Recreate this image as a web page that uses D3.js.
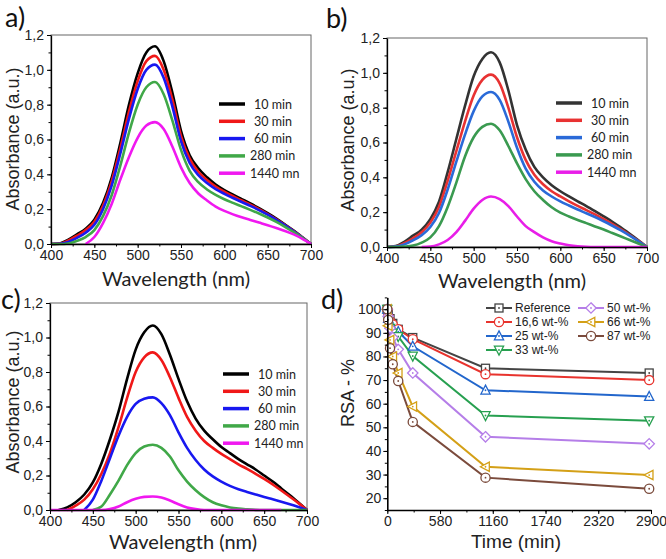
<!DOCTYPE html>
<html><head><meta charset="utf-8">
<script src="https://cdn.jsdelivr.net/npm/d3@7"></script>
<style>body{margin:0;background:#fff}svg{display:block}</style>
</head><body>
<svg id="c" width="666" height="559"></svg>
<script>
// ---------- DATA ----------
const wavelengths = [400,410,420,430,440,450,460,470,480,490,500,510,520,530,540,550,560,570,580,590,600,610,620,630,640,650,660,670,680,690,700];
const seriesNames = ["10 min","30 min","60 min","280 min","1440 mn"];

const a10  = [0,0.003,0.025,0.055,0.088,0.14,0.235,0.38,0.58,0.80,0.98,1.10,1.135,1.05,0.87,0.65,0.51,0.435,0.383,0.342,0.31,0.283,0.258,0.233,0.206,0.177,0.146,0.112,0.077,0.039,0];
const a30  = [0,0.002,0.02,0.048,0.08,0.128,0.22,0.36,0.55,0.76,0.935,1.05,1.08,1.0,0.83,0.62,0.49,0.415,0.368,0.33,0.3,0.274,0.25,0.226,0.2,0.172,0.142,0.109,0.075,0.038,0];
const a60  = [0,0.001,0.012,0.035,0.065,0.11,0.2,0.335,0.52,0.72,0.89,1.0,1.03,0.955,0.79,0.59,0.465,0.395,0.35,0.315,0.288,0.264,0.241,0.219,0.195,0.168,0.139,0.107,0.073,0.037,0];
const a280 = [0,0,0.003,0.018,0.04,0.08,0.16,0.28,0.45,0.64,0.8,0.9,0.93,0.86,0.71,0.54,0.42,0.355,0.313,0.282,0.257,0.236,0.216,0.196,0.175,0.152,0.127,0.099,0.068,0.035,0];
const a1440= [null,null,null,null,0,0.04,0.12,0.23,0.37,0.50,0.61,0.68,0.70,0.66,0.56,0.44,0.35,0.29,0.25,0.215,0.19,0.17,0.153,0.138,0.123,0.108,0.092,0.075,0.055,0.03,0];

const b10  = [0,0.005,0.03,0.065,0.1,0.16,0.26,0.43,0.62,0.81,0.98,1.08,1.118,1.06,0.90,0.70,0.56,0.46,0.40,0.355,0.32,0.29,0.262,0.235,0.206,0.176,0.145,0.111,0.076,0.039,0];
const b30  = [0,0.003,0.022,0.05,0.085,0.14,0.23,0.38,0.55,0.72,0.87,0.96,0.99,0.94,0.80,0.63,0.5,0.415,0.36,0.32,0.29,0.262,0.236,0.212,0.187,0.16,0.132,0.101,0.069,0.035,0];
const b60  = [0,0.002,0.015,0.038,0.068,0.115,0.195,0.33,0.49,0.645,0.78,0.865,0.89,0.845,0.72,0.57,0.45,0.375,0.325,0.29,0.262,0.238,0.215,0.194,0.172,0.148,0.122,0.095,0.065,0.033,0];
const b280 = [0,0,0.002,0.008,0.025,0.055,0.12,0.23,0.37,0.52,0.63,0.69,0.708,0.67,0.58,0.48,0.39,0.32,0.27,0.228,0.197,0.175,0.155,0.137,0.118,0.1,0.08,0.06,0.04,0.02,0];
const b1440= [null,null,null,null,0,0.002,0.015,0.04,0.085,0.15,0.22,0.27,0.29,0.275,0.235,0.175,0.12,0.085,0.055,0.033,0.02,0.01,0.004,0.001,0,0,0,0,0,0,0];

const c10  = [null,0,0.015,0.045,0.09,0.16,0.27,0.41,0.57,0.76,0.93,1.03,1.07,1.02,0.9,0.76,0.63,0.53,0.46,0.41,0.365,0.33,0.295,0.265,0.235,0.2,0.165,0.125,0.085,0.043,0];
const c30  = [null,null,0,0.025,0.06,0.12,0.21,0.33,0.48,0.65,0.8,0.885,0.914,0.87,0.77,0.65,0.54,0.46,0.4,0.36,0.325,0.295,0.265,0.238,0.21,0.18,0.148,0.113,0.077,0.04,0];
const c60  = [null,null,null,null,0,0.06,0.17,0.3,0.43,0.54,0.615,0.645,0.653,0.62,0.55,0.45,0.36,0.29,0.235,0.195,0.165,0.14,0.12,0.105,0.09,0.075,0.062,0.048,0.033,0.017,0];
const c280 = [null,null,null,null,null,0,0.02,0.09,0.17,0.26,0.33,0.368,0.378,0.36,0.31,0.23,0.165,0.115,0.075,0.045,0.027,0.015,0.008,0.004,0.001,0,0,0,0,0,0];
const c1440= [0,0,0,0,0,0,0,0.005,0.02,0.045,0.065,0.076,0.078,0.072,0.055,0.033,0.015,0.005,0,0,0,0,0,0,0,0,0,0,null,null,null];

const wlTicks = [400,450,500,550,600,650,700];
const absTicks = [0,0.2,0.4,0.6,0.8,1.0,1.2];
const absTickLabels = ["0,0","0,2","0,4","0,6","0,8","1,0","1,2"];

const times = [0,10,30,60,120,280,1080,2880];
const rsaNames = ["Reference","16,6 wt-%","25 wt-%","33 wt-%","50 wt-%","66 wt-%","87 wt-%"];
const rsaRef  = [100,98,96,94,91.5,88,75,73];
const rsa16   = [100,97,95,93.5,91.5,87.3,72.5,70];
const rsa25   = [100,96,93.5,92,90.5,84.3,65.7,63];
const rsa33   = [100,95,92,90,88.5,80.2,55,52.8];
const rsa50   = [100,97,92,88,83,73,46,43];
const rsa66   = [100,93,87,80,73,58.8,33.3,29.8];
const rsa87   = [100,95.5,83.5,76.7,69.6,52.3,28.7,24];
const timeTicks = [0,580,1160,1740,2320,2900];
const rsaTicks = [20,30,40,50,60,70,80,90,100];

// ---------- DRAW ----------
const svg = d3.select("#c");
const TF = "'Liberation Sans', Arial, sans-serif";
const LF = "Lato, 'Open Sans', sans-serif";

function spectra(cfg){
  const g = svg.append("g");
  const x = d3.scaleLinear().domain([400,700]).range([cfg.x0,cfg.x1]);
  const y = d3.scaleLinear().domain([0,1.2]).range([cfg.yb,cfg.yt]);
  g.append("rect").attr("x",cfg.x0).attr("y",cfg.yt).attr("width",cfg.x1-cfg.x0).attr("height",cfg.yb-cfg.yt)
    .attr("fill","none").attr("stroke","#666").attr("stroke-width",1);
  const line = d3.line().defined(d=>d[1]!==null).x(d=>x(d[0])).y(d=>y(d[1])).curve(d3.curveMonotoneX);
  cfg.series.forEach((s,i)=>{
    g.append("path").datum(wavelengths.map((w,j)=>[w,s[j]]))
      .attr("d",line).attr("fill","none").attr("stroke",cfg.colors[i]).attr("stroke-width",2.6)
      .attr("stroke-linejoin","round");
  });
  const minorX = d3.range(400,701,25);
  g.append("g").attr("transform",`translate(0,${cfg.yb})`)
    .call(d3.axisBottom(x).tickValues(minorX).tickSize(2.5).tickFormat(""))
    .call(a=>a.select(".domain").remove());
  const ax = g.append("g").attr("transform",`translate(0,${cfg.yb})`)
    .call(d3.axisBottom(x).tickValues(wlTicks).tickSize(4).tickPadding(2).tickSizeOuter(0).tickFormat(d=>d));
  ax.selectAll("text").attr("font-family",TF).attr("font-size",14).attr("fill","#222");
  ax.select(".domain").attr("stroke-width",1.3);
  const minorY = d3.range(0,1.21,0.1);
  g.append("g").attr("transform",`translate(${cfg.x0},0)`)
    .call(d3.axisLeft(y).tickValues(minorY).tickSize(2.5).tickFormat(""))
    .call(a=>a.select(".domain").remove());
  const ay = g.append("g").attr("transform",`translate(${cfg.x0},0)`)
    .call(d3.axisLeft(y).tickValues(absTicks).tickSize(4).tickPadding(3).tickSizeOuter(0).tickFormat((d,i)=>absTickLabels[i]));
  ay.selectAll("text").attr("font-family",TF).attr("font-size",14).attr("fill","#222");
  ay.select(".domain").attr("stroke-width",1.3);
  g.append("text").attr("x",cfg.xlx).attr("y",cfg.xly).attr("text-anchor","middle")
    .attr("font-family",LF).attr("font-size",20).attr("fill","#222").text("Wavelength (nm)");
  g.append("text").attr("transform",`translate(${cfg.ylx},${cfg.yly}) rotate(-90)`).attr("text-anchor","middle")
    .attr("font-family",TF).attr("font-size",18).attr("fill","#222").text("Absorbance (a.u.)");
  g.append("text").attr("x",cfg.px).attr("y",cfg.py).attr("font-family",LF).attr("font-size",27).attr("fill","#111").text(cfg.panel);
  seriesNames.forEach((n,i)=>{
    const yy = cfg.ly + i*17.3;
    g.append("line").attr("x1",cfg.lx).attr("x2",cfg.lx+26).attr("y1",yy).attr("y2",yy)
      .attr("stroke",cfg.colors[i]).attr("stroke-width",3.5);
    g.append("text").attr("x",cfg.lx+(i<3?35:31)).attr("y",yy+4.5).attr("font-family",LF).attr("font-size",12.5)
      .attr("fill","#222").text(n);
  });
}

spectra({x0:51,x1:311,yb:244,yt:35,series:[a10,a30,a60,a280,a1440],
  colors:["#000000","#f01818","#1818f0","#40a848","#f018f0"],
  xlx:176,xly:286,ylx:19,yly:139,px:5,py:27,panel:"a)",lx:219,ly:104});
spectra({x0:387,x1:647,yb:247,yt:38,series:[b10,b30,b60,b280,b1440],
  colors:["#333333","#e83232","#2a6ad8","#3a9a50","#e81ee8"],
  xlx:512,xly:288,ylx:354,yly:140,px:326,py:28,panel:"b)",lx:556,ly:103});
spectra({x0:50,x1:307,yb:510,yt:303,series:[c10,c30,c60,c280,c1440],
  colors:["#000000","#f01818","#1818f0","#40a848","#f018f0"],
  xlx:183,xly:549,ylx:19,yly:402,px:1,py:309,panel:"c)",lx:223,ly:374});

// panel d
(function(){
  const g = svg.append("g");
  const x = d3.scaleLinear().domain([0,2900]).range([387.3,651]);
  const y = d3.scaleLinear().domain([15,105]).range([510,297.4]);
  const series = [rsaRef,rsa16,rsa25,rsa33,rsa50,rsa66,rsa87];
  const colors = ["#444444","#e8332d","#2266cc","#27a050","#b57ee8","#d4a017","#7b4b3c"];
  const shapes = ["square","circle","up","down","diamond","left","circle"];
  function marker(sel, shape, cx, cy, col){
    const r=4.6;
    let el;
    if(shape==="circle") el=sel.append("circle").attr("cx",cx).attr("cy",cy).attr("r",r);
    else if(shape==="square") el=sel.append("rect").attr("x",cx-r+0.6).attr("y",cy-r+0.6).attr("width",2*r-1.2).attr("height",2*r-1.2);
    else {
      let pts;
      if(shape==="up") pts=[[0,-r-0.5],[r,r-0.8],[-r,r-0.8]];
      if(shape==="down") pts=[[0,r+0.5],[r,-r+0.8],[-r,-r+0.8]];
      if(shape==="left") pts=[[-r-0.5,0],[r-0.8,-r],[r-0.8,r]];
      if(shape==="diamond") pts=[[0,-r-0.6],[r+0.6,0],[0,r+0.6],[-r-0.6,0]];
      el=sel.append("polygon").attr("points",pts.map(p=>[cx+p[0],cy+p[1]].join(",")).join(" "));
    }
    el.attr("fill","#fff").attr("stroke",col).attr("stroke-width",1.3);
    sel.append("circle").attr("cx",cx).attr("cy",cy).attr("r",0.9).attr("fill",col);
  }
  const line = d3.line().x((d,i)=>x(times[i])).y(d=>y(d));
  series.forEach((s,k)=>{
    g.append("path").datum(s).attr("d",line).attr("fill","none").attr("stroke",colors[k]).attr("stroke-width",2);
  });
  series.forEach((s,k)=>{
    s.forEach((v,i)=>marker(g,shapes[k],x(times[i]),y(v),colors[k]));
  });
  g.append("g").attr("transform","translate(0,510)")
    .call(d3.axisBottom(x).tickValues(d3.range(0,2901,290)).tickSize(2.5).tickFormat(""))
    .call(a=>a.select(".domain").remove());
  const ax = g.append("g").attr("transform","translate(0,510)")
    .call(d3.axisBottom(x).tickValues(timeTicks).tickSize(4).tickPadding(2).tickSizeOuter(0).tickFormat(d=>d));
  ax.selectAll("text").attr("font-family",TF).attr("font-size",14).attr("fill","#222");
  ax.select(".domain").attr("stroke-width",1.6);
  g.append("g").attr("transform","translate(387.3,0)")
    .call(d3.axisLeft(y).tickValues(d3.range(15,106,5)).tickSize(2.5).tickFormat(""))
    .call(a=>a.select(".domain").remove());
  const ay = g.append("g").attr("transform","translate(387.3,0)")
    .call(d3.axisLeft(y).tickValues(rsaTicks).tickSize(4).tickPadding(2).tickSizeOuter(0).tickFormat(d=>d));
  ay.selectAll("text").attr("font-family",TF).attr("font-size",14).attr("fill","#222");
  ay.select(".domain").attr("stroke-width",1.6);
  g.append("text").attr("x",516).attr("y",548).attr("text-anchor","middle")
    .attr("font-family",TF).attr("font-size",19).attr("fill","#222").text("Time (min)");
  g.append("text").attr("transform","translate(354,393) rotate(-90)").attr("text-anchor","middle")
    .attr("font-family",TF).attr("font-size",18).attr("fill","#222").text("RSA - %");
  g.append("text").attr("x",321).attr("y",309).attr("font-family",LF).attr("font-size",27).attr("fill","#111").text("d)");
  const cols = [[486,308],[486,322],[486,336],[486,350],[578,308],[578,322],[578,336]];
  series.forEach((s,k)=>{
    const [lx,ly]=cols[k];
    g.append("line").attr("x1",lx).attr("x2",lx+26).attr("y1",ly).attr("y2",ly).attr("stroke",colors[k]).attr("stroke-width",2);
    marker(g,shapes[k],lx+13,ly,colors[k]);
    g.append("text").attr("x",lx+29).attr("y",ly+4.3).attr("font-family",TF).attr("font-size",12)
      .attr("fill","#222").text(rsaNames[k]);
  });
})();
</script>
</body></html>
